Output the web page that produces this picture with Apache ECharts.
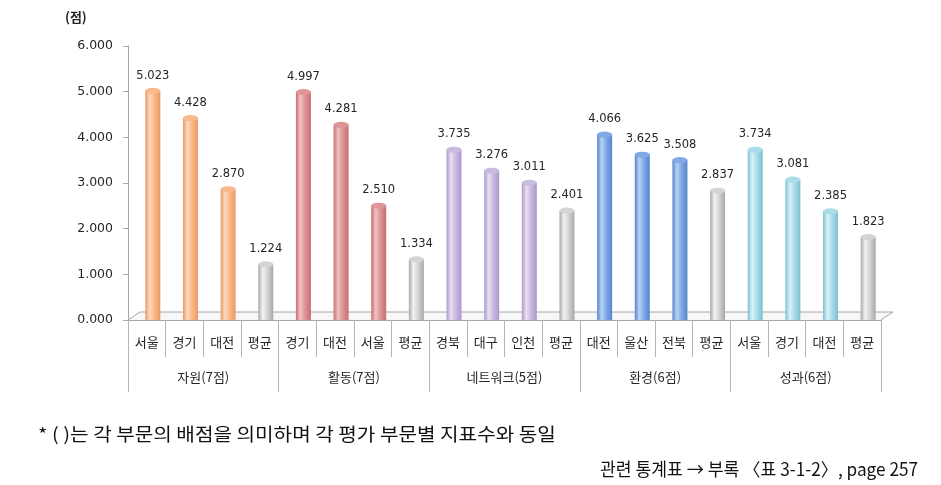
<!DOCTYPE html>
<html><head><meta charset="utf-8">
<script src="https://cdn.jsdelivr.net/npm/echarts@6/dist/echarts.min.js"></script>
<style>html,body{margin:0;padding:0;background:#fff}#c{width:941px;height:485px}</style>
</head><body><div id="c"></div>
<script>
const groups = ['자원(7점)','활동(7점)','네트워크(5점)','환경(6점)','성과(6점)'];
const categories = ['서울','경기','대전','평균','경기','대전','서울','평균','경북','대구','인천','평균','대전','울산','전북','평균','서울','경기','대전','평균'];
const values = [5.023,4.428,2.870,1.224,4.997,4.281,2.510,1.334,3.735,3.276,3.011,2.401,4.066,3.625,3.508,2.837,3.734,3.081,2.385,1.823];
const yMin = 0, yMax = 6, yStep = 1;
const unitLabel = '(점)';
const note1 = '* ( )는 각 부문의 배점을 의미하며 각 평가 부문별 지표수와 동일';
const note2 = '관련 통계표 → 부록 〈표 3-1-2〉, page 257';

const palettes = [
  {edge:'#E99A62', main:'#F9B98B', light:'#FDD9BE'},
  {edge:'#C86E72', main:'#DF9497', light:'#F1C2C3'},
  {edge:'#AB98C8', main:'#CABBE0', light:'#E8E0F2'},
  {edge:'#5685CB', main:'#80AAE5', light:'#B9D2F4'},
  {edge:'#7CC0D2', main:'#AADDEA', light:'#D9F2F7'}
];
const grayPal = {edge:'#A8A8A8', main:'#D4D4D4', light:'#F2F2F2'};
function palFor(i){ return categories[i]==='평균' ? grayPal : palettes[Math.floor(i/4)]; }
function grad(p){
  return new echarts.graphic.LinearGradient(0,0,1,0,[
    {offset:0,color:p.edge},{offset:0.3,color:p.light},{offset:0.6,color:p.main},{offset:1,color:p.edge}]);
}
const txt = '#262626';
const GL = 128, GR = 60, GT = 46, GB = 165, SHIFT = 6;

const chart = echarts.init(document.getElementById('c'), null, {renderer:'canvas'});
const option = {
  animation:false,
  backgroundColor:'#fff',
  grid:[
    {left:GL+SHIFT, right:GR-SHIFT, top:GT, bottom:GB},
    {left:GL, right:GR, top:GT, bottom:GB}
  ],
  xAxis:[
    {type:'category', gridIndex:1, data:categories, position:'bottom',
     axisLine:{show:true, lineStyle:{color:'#A6A6A6'}},
     axisTick:{show:true, interval:0, length:37, lineStyle:{color:'#B4B4B4'}},
     axisLabel:{interval:0, margin:16, fontSize:13, color:txt, fontFamily:'"Noto Sans CJK KR"'}},
    {type:'category', gridIndex:1, data:groups, position:'bottom',
     axisLine:{show:false},
     axisTick:{show:true, interval:0, length:72, lineStyle:{color:'#B4B4B4'}},
     axisLabel:{interval:0, margin:51, fontSize:13, color:txt, fontFamily:'"Noto Sans CJK KR"'}},
    {type:'category', gridIndex:0, data:categories, show:false}
  ],
  yAxis:[
    {type:'value', gridIndex:1, min:yMin, max:yMax, interval:yStep,
     axisLine:{show:true, lineStyle:{color:'#A6A6A6'}},
     axisTick:{show:true, length:5, lineStyle:{color:'#A6A6A6'}},
     splitLine:{show:false},
     axisLabel:{margin:15, fontSize:12.5, color:txt, fontFamily:'"DejaVu Sans"', formatter:v=>v.toFixed(3)}},
    {type:'value', gridIndex:0, min:yMin, max:yMax, interval:yStep, show:false, splitLine:{show:false}}
  ],
  series:[
    {type:'bar', xAxisIndex:2, yAxisIndex:1, barWidth:15, z:5,
     data:values.map((v,i)=>({value:v, itemStyle:{color:grad(palFor(i))}})),
     label:{show:true, position:'top', distance:9, fontSize:11.5, color:txt, fontFamily:'"DejaVu Sans"',
       formatter:p=>p.value.toFixed(3)}},
    {type:'pictorialBar', xAxisIndex:2, yAxisIndex:1, symbol:'circle', symbolSize:[15,6],
     symbolPosition:'end', symbolOffset:[0,'-50%'], z:6,
     data:values.map((v,i)=>{const p=palFor(i); return {value:v, itemStyle:{color:p.main, borderColor:p.edge, borderWidth:0.8}};})}
  ]
};
chart.setOption(option);

const y0 = chart.convertToPixel({yAxisIndex:0}, yMin);
const xL = GL, xR = 941-GR, dx = 12, dy = 8;
chart.setOption({graphic:[
  {type:'polyline', z:1, silent:true,
   shape:{points:[[xL,y0],[xL+dx,y0-dy],[xR+dx,y0-dy],[xR,y0]]},
   style:{stroke:'#A6A6A6', lineWidth:1, fill:'#F7F7F7'}},
  {type:'text', x:65, y:17, silent:true,
   style:{text:unitLabel, fontSize:13, fontWeight:'bold', fontFamily:'Noto Sans CJK KR', fill:txt, verticalAlign:'middle'}},
  {type:'text', x:38, y:434, scaleX:1.12, silent:true,
   style:{text:note1, fontSize:18, fontFamily:'Noto Sans CJK KR', fill:'#111', verticalAlign:'middle'}},
  {type:'text', x:918, y:469, scaleX:0.955, silent:true,
   style:{text:note2, fontSize:18, fontFamily:'Noto Sans CJK KR', fill:'#111', align:'right', verticalAlign:'middle'}}
]});
</script></body></html>
